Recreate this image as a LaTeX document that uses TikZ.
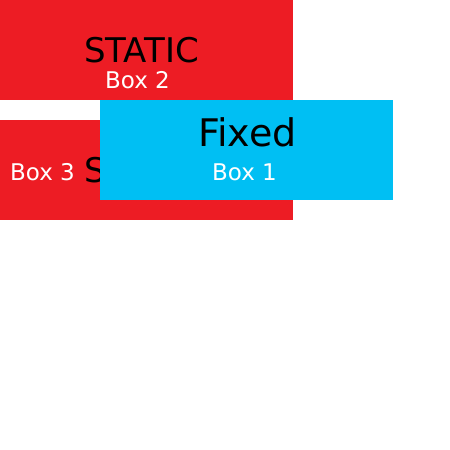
\documentclass[tikz,border=0pt]{standalone}
\usepackage{fontspec}
\setmainfont{DejaVu Sans}
\definecolor{boxred}{HTML}{ED1C24}
\definecolor{boxblue}{HTML}{00BFF3}
\begin{document}
\begin{tikzpicture}[x=1pt,y=-1pt,inner sep=0pt,outer sep=0pt,
panel/.style={rectangle,minimum width=293pt,minimum height=100pt},
bigtext/.style={font=\fontsize{34}{40}\selectfont},
tag/.style={text=white,font=\fontsize{23}{27}\selectfont}]

\useasboundingbox (0,0) rectangle (450,450);

\draw (146.5,50) node[panel,fill=boxred] (box2) {};
\draw (141.5,50) node[bigtext] (static2) {STATIC};
\draw (137.5,80) node[tag] (tag2) {Box 2};

\draw (146.5,170) node[panel,fill=boxred] (box3) {};
\draw (141.5,170) node[bigtext] (static3) {STATIC};
\draw (42.5,172) node[tag] (tag3) {Box 3};

\draw (246.5,150) node[panel,fill=boxblue] (box1) {};
\draw (247.5,132.5) node[bigtext,font=\fontsize{38}{44}\selectfont] (fixed) {Fixed};
\draw (244.5,172) node[tag] (tag1) {Box 1};
\end{tikzpicture}
\end{document}
